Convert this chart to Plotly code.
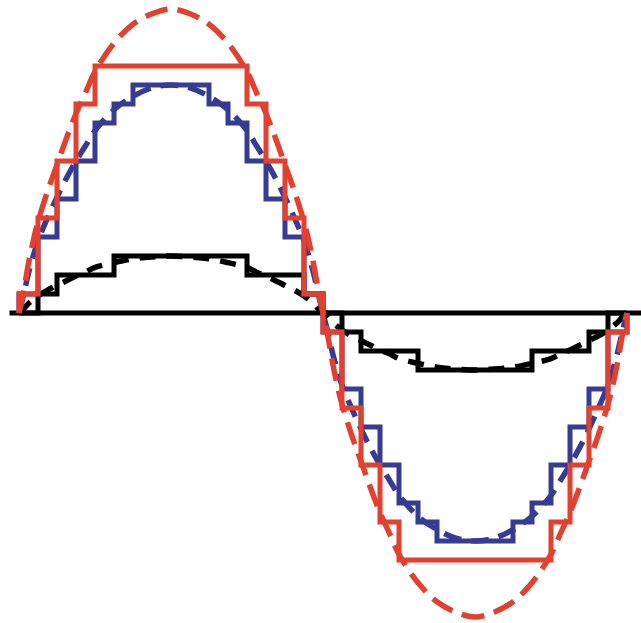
import plotly.graph_objects as go

# sample intervals (time in sample periods)
step_edges = [0] + list(range(0, 33))

# quantized (sample-and-hold) levels, in quantization steps, one per interval
black_levels = [0, 1, 2, 2, 2, 3, 3, 3, 3, 3, 3, 3, 2, 2, 2, 1,
                0, -1, -2, -2, -2, -3, -3, -3, -3, -3, -3, -2, -2, -2, -1, 0]
blue_levels = [1, 4, 6, 8, 10, 11, 12, 12, 12, 12, 11, 10, 8, 6, 4, 1,
               -1, -4, -6, -8, -10, -11, -12, -12, -12, -12, -11, -10, -8, -6, -4, -1]
red_levels = [1, 5, 8, 11, 13, 13, 13, 13, 13, 13, 13, 13, 11, 8, 5, 1,
              -1, -5, -8, -11, -13, -13, -13, -13, -13, -13, -13, -13, -11, -8, -5, -1]

# analog waves (time, amplitude in quantization steps)
wave_t = [0, 0.25, 0.5, 0.75, 1, 1.5, 2, 2.5, 3, 3.5, 4, 5, 6, 7, 8,
          9, 10, 11, 12, 12.5, 13, 13.5, 14, 14.5, 15, 15.25, 15.5, 15.75, 16,
          16.25, 16.5, 16.75, 17, 17.5, 18, 18.5, 19, 19.5, 20, 21, 22, 23, 24,
          25, 26, 27, 28, 28.5, 29, 29.5, 30, 30.5, 31, 31.25, 31.5, 31.75, 32]
red_wave = [0, 1.2, 2.6, 3.8, 4.8, 6.4, 7.8, 9.2, 10.5, 11.6, 12.7, 14.2, 15.2, 15.75, 16,
            15.75, 15.2, 14.2, 12.7, 11.6, 10.5, 9.2, 7.8, 6.4, 4.8, 3.8, 2.6, 1.2, 0,
            -1.2, -2.6, -3.8, -4.8, -6.4, -7.8, -9.2, -10.5, -11.6, -12.7, -14.2, -15.2, -15.75, -16,
            -15.75, -15.2, -14.2, -12.7, -11.6, -10.5, -9.2, -7.8, -6.4, -4.8, -3.8, -2.6, -1.2, 0]
blue_wave = [0, 1.0, 2.1, 3.0, 3.8, 5.0, 6.1, 7.1, 8.0, 8.8, 9.6, 10.7, 11.4, 11.85, 12,
             11.85, 11.4, 10.7, 9.6, 8.8, 8.0, 7.1, 6.1, 5.0, 3.8, 3.0, 2.1, 1.0, 0,
             -1.0, -2.1, -3.0, -3.8, -5.0, -6.1, -7.1, -8.0, -8.8, -9.6, -10.7, -11.4, -11.85, -12,
             -11.85, -11.4, -10.7, -9.6, -8.8, -8.0, -7.1, -6.1, -5.0, -3.8, -3.0, -2.1, -1.0, 0]
black_wave = [0, 0.22, 0.5, 0.7, 0.9, 1.2, 1.45, 1.7, 1.95, 2.15, 2.4, 2.65, 2.85, 2.95, 3,
              2.95, 2.85, 2.65, 2.4, 2.15, 1.95, 1.7, 1.45, 1.2, 0.9, 0.7, 0.5, 0.22, 0,
              -0.22, -0.5, -0.7, -0.9, -1.2, -1.45, -1.7, -1.95, -2.15, -2.4, -2.65, -2.85, -2.95, -3,
              -2.95, -2.85, -2.65, -2.4, -2.15, -1.95, -1.7, -1.45, -1.2, -0.9, -0.7, -0.5, -0.22, 0]

BLACK = "#000000"
BLUE = "#373B93"
RED = "#E2412F"


def stair(levels):
    return [0] + list(levels) + [0]


fig = go.Figure()

fig.add_shape(type="line", xref="x", yref="y", x0=-0.5, x1=32.75, y0=0, y1=0,
              line=dict(color=BLACK, width=5), layer="below")

fig.add_trace(go.Scatter(x=wave_t, y=black_wave, mode="lines", line_shape="spline",
                         line=dict(color=BLACK, width=5.5, dash="16px,11px")))
fig.add_trace(go.Scatter(x=step_edges, y=stair(black_levels), mode="lines", line_shape="hv",
                         line=dict(color=BLACK, width=5)))
fig.add_trace(go.Scatter(x=wave_t, y=blue_wave, mode="lines", line_shape="spline",
                         line=dict(color=BLUE, width=5.5, dash="18px,10px")))
fig.add_trace(go.Scatter(x=step_edges, y=stair(blue_levels), mode="lines", line_shape="hv",
                         line=dict(color=BLUE, width=5)))
fig.add_trace(go.Scatter(x=wave_t, y=red_wave, mode="lines", line_shape="spline",
                         line=dict(color=RED, width=5.5, dash="23px,10px")))
fig.add_trace(go.Scatter(x=step_edges, y=stair(red_levels), mode="lines", line_shape="hv",
                         line=dict(color=RED, width=5)))

fig.update_layout(
    width=641, height=623, autosize=False,
    margin=dict(l=0, r=0, t=0, b=0),
    paper_bgcolor="white", plot_bgcolor="white",
    showlegend=False,
    xaxis=dict(range=[-1, 641 / 19 - 1], visible=False, fixedrange=True),
    yaxis=dict(range=[(313 - 623) / 19, 313 / 19], visible=False, fixedrange=True),
)

fig.write_html("out.html", config={"displayModeBar": False},
               post_script="document.body.style.margin='0';document.body.style.overflow='hidden';")
